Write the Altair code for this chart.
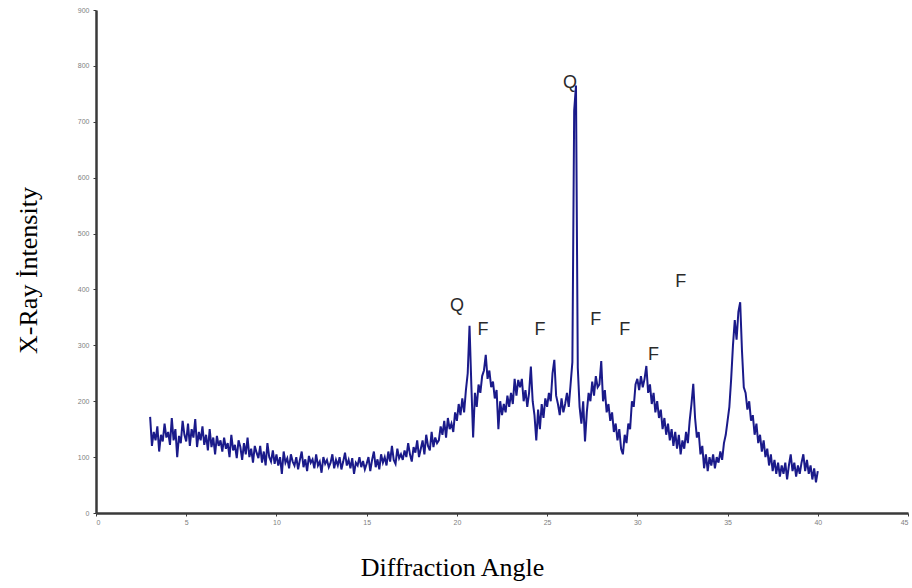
import altair as alt
import numpy as np
import pandas as pd

# Scan grid: 3.0 to 40.0 degrees, step 0.1
angles = np.round(np.arange(3.0, 40.0001, 0.1), 1)

intensity = [
    172, 120, 145, 130, 155, 110, 140, 128, 160, 135,   # 3
    145, 122, 170, 130, 150, 100, 138, 125, 165, 140,   # 4
    128, 160, 120, 150, 135, 168, 118, 145, 130, 155,   # 5
    122, 140, 112, 150, 118, 135, 105, 138, 120, 130,   # 6
    110, 135, 115, 125, 100, 140, 112, 122, 98, 130,    # 7
    118, 95, 125, 105, 135, 100, 115, 90, 120, 108,     # 8
    98, 120, 90, 110, 85, 125, 100, 92, 112, 88,        # 9
    105, 85, 100, 70, 110, 90, 98, 80, 105, 92,         # 10
    85, 100, 78, 95, 110, 82, 96, 75, 102, 90,          # 11
    96, 80, 105, 85, 92, 72, 100, 88, 95, 82,           # 12
    90, 105, 80, 95, 85, 100, 78, 92, 108, 85,          # 13
    95, 80, 98, 70, 90, 85, 100, 82, 93, 78,            # 14
    88, 100, 75, 95, 110, 82, 96, 78, 105, 90,          # 15
    100, 85, 110, 92, 120, 95, 88, 115, 98, 105,        # 16
    95, 112, 100, 125, 105, 92, 118, 108, 130, 100,     # 17
    115, 130, 105, 140, 120, 112, 145, 118, 135, 125,   # 18
    130, 155, 140, 165, 135, 170, 150, 160, 145, 180,   # 19
    165, 195, 175, 205, 180, 220, 250, 335, 230, 135,   # 20
    215, 190, 230, 215, 245, 255, 283, 240, 255, 225,   # 21
    235, 205, 220, 150, 200, 175, 195, 180, 210, 190,   # 22
    215, 195, 240, 210, 238, 225, 240, 200, 220, 190,   # 23
    215, 262, 200, 175, 130, 185, 150, 195, 170, 205,   # 24
    190, 215, 200, 250, 274, 210, 195, 175, 205, 180,   # 25
    195, 215, 190, 230, 270, 720, 765, 260, 190, 160,   # 26
    200, 128, 180, 215, 200, 235, 210, 245, 225, 230,   # 27
    272, 200, 220, 180, 195, 165, 180, 145, 160, 130,   # 28
    150, 115, 105, 140, 125, 160, 150, 200, 190, 230,   # 29
    240, 220, 245, 225, 240, 263, 215, 230, 195, 215,   # 30
    180, 200, 170, 185, 150, 170, 140, 160, 130, 150,   # 31
    120, 145, 115, 140, 105, 130, 115, 145, 125, 165,   # 32
    195, 231, 170, 135, 145, 105, 120, 80, 105, 75,     # 33
    100, 85, 105, 80, 100, 90, 110, 95, 125, 140,       # 34
    165, 190, 240, 300, 345, 310, 360, 377, 290, 225,   # 35
    215, 185, 200, 165, 175, 140, 160, 125, 140, 110,   # 36
    130, 100, 115, 85, 105, 75, 95, 70, 90, 65,         # 37
    85, 70, 90, 60, 85, 105, 75, 90, 65, 85,            # 38
    70, 90, 105, 75, 95, 70, 85, 60, 80, 55,            # 39
    75,                                                 # 40
]

label_text = ["Q", "Q", "F", "F", "F", "F", "F", "F"]
label_x = [26.27, 20.0, 21.45, 24.6, 27.7, 29.3, 30.9, 32.4]
label_y = [769, 370, 327, 327, 345, 327, 283, 413]

x_ticks = [0, 5, 10, 15, 20, 25, 30, 35, 40, 45]
y_ticks = [0, 100, 200, 300, 400, 500, 600, 700, 800, 900]

df = pd.DataFrame({"angle": angles, "intensity": intensity})
lab = pd.DataFrame({"t": label_text, "x": label_x, "y": label_y})

line = alt.Chart(df).mark_line(color="#1a1a8a", strokeWidth=2.0).encode(
    x=alt.X(
        "angle:Q",
        scale=alt.Scale(domain=[0, 45], nice=False, zero=False),
        axis=alt.Axis(
            values=x_ticks,
            title="Diffraction Angle",
            titleX=356,
            titleY=54,
            titleBaseline="middle",
            titleAlign="center",
            labelPadding=2,
        ),
    ),
    y=alt.Y(
        "intensity:Q",
        scale=alt.Scale(domain=[0, 900], nice=False),
        axis=alt.Axis(
            values=y_ticks,
            title="X-Ray İntensity",
            titleX=-68,
            titleY=260,
            titleBaseline="middle",
            titleAlign="center",
            labelPadding=4,
        ),
    ),
)

text = alt.Chart(lab).mark_text(
    font="Liberation Sans", fontSize=18, color="#2a2a2a"
).encode(x="x:Q", y="y:Q", text="t:N")

chart = (
    alt.layer(line, text)
    .properties(
        width=812,
        height=503,
        padding={"left": 96, "top": 10, "right": 4, "bottom": 75},
        autosize=alt.AutoSizeParams(type="none"),
        background="white",
    )
    .configure_view(stroke=None)
    .configure_axis(
        grid=False,
        domainColor="#3a3a3a",
        domainWidth=2.5,
        tickColor="#3a3a3a",
        tickSize=3,
        labelFontSize=7,
        labelColor="#808080",
        labelFont="Liberation Sans",
        titleFont="Liberation Serif",
        titleFontSize=26,
        titleFontWeight="normal",
        titleColor="black",
    )
)

chart.save("out.html", embed_options={"renderer": "svg", "actions": False})
